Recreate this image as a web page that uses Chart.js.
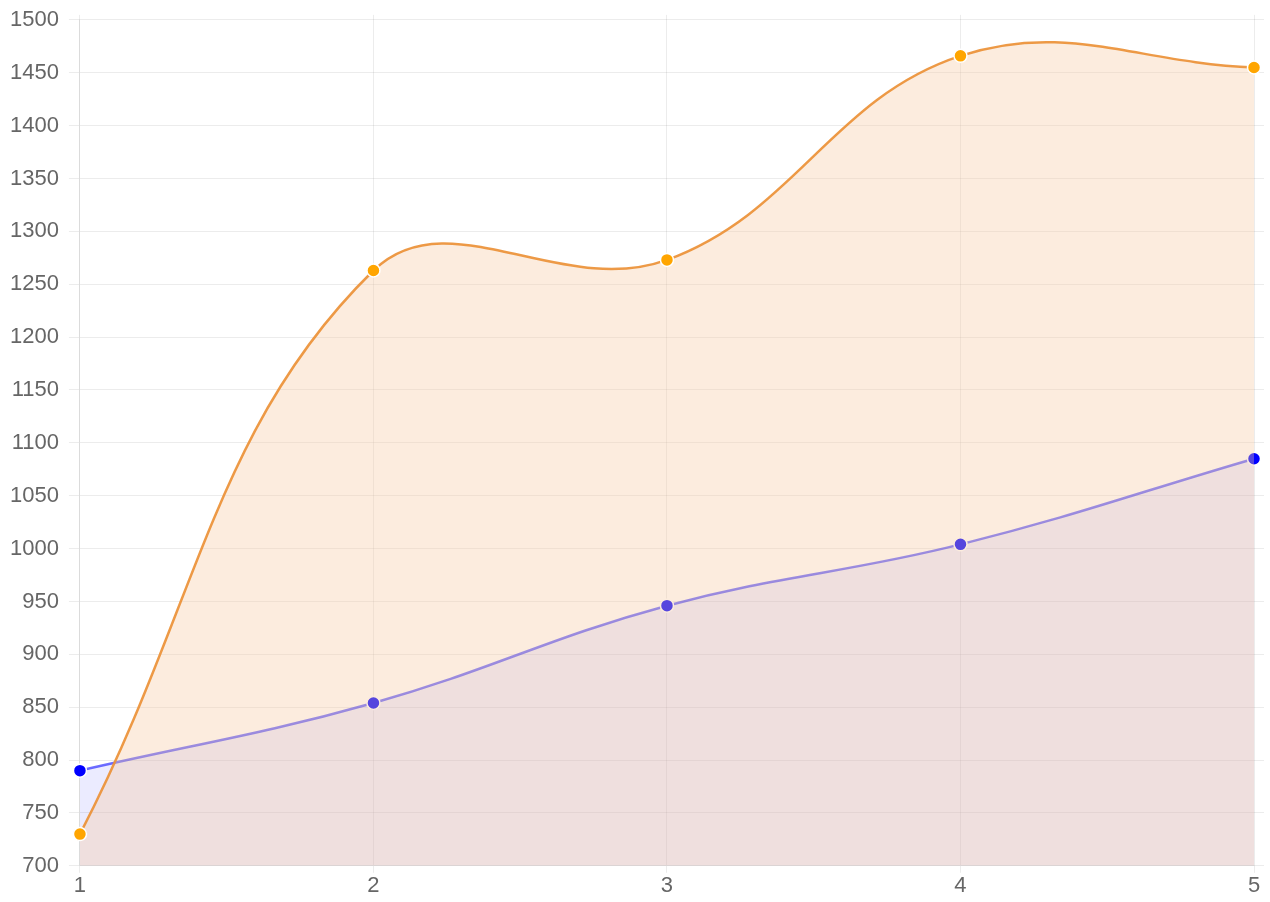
<!DOCTYPE html>
<html>
<head>
<meta charset="utf-8">
<script src="https://cdn.jsdelivr.net/npm/chart.js@4/dist/chart.umd.min.js"></script>
<style>
html,body{margin:0;padding:0;background:#fff;}
#wrap{width:1270px;height:902px;position:relative;}
</style>
</head>
<body>
<div id="wrap"><canvas id="c"></canvas></div>
<script>
const categories = ['1','2','3','4','5'];
const seriesOrange = [730, 1263, 1273, 1466, 1455];
const seriesBlue = [790, 854, 946, 1004, 1085];
const yMin = 700, yMax = 1500, yStep = 50;

const gridColor = 'rgba(0,0,0,0.075)';
const tickFont = { size: 22, family: 'Liberation Sans, Arial', lineHeight: 0.9 };

new Chart(document.getElementById('c'), {
  type: 'line',
  data: {
    labels: categories,
    datasets: [
      {
        label: 'A',
        data: seriesOrange,
        borderColor: 'rgba(236,145,55,0.92)',
        backgroundColor: 'rgba(245,200,160,0.35)',
        pointBackgroundColor: '#FFA500',
        pointBorderColor: '#ffffff',
        pointBorderWidth: 1.5,
        pointRadius: 6.5,
        borderWidth: 2.5,
        tension: 0.4,
        fill: 'origin'
      },
      {
        label: 'B',
        data: seriesBlue,
        borderColor: 'rgba(20,20,255,0.62)',
        backgroundColor: 'rgba(0,0,255,0.08)',
        pointBackgroundColor: '#0000FF',
        pointBorderColor: '#ffffff',
        pointBorderWidth: 1.5,
        pointRadius: 6.5,
        borderWidth: 2.5,
        tension: 0.4,
        fill: 'origin'
      }
    ]
  },
  options: {
    responsive: true,
    maintainAspectRatio: false,
    animation: false,
    layout: { padding: { top: 9, right: 6, bottom: 3, left: 0 } },
    plugins: { legend: { display: false }, tooltip: { enabled: false } },
    scales: {
      x: {
        grid: { color: gridColor, tickLength: 7 },
        ticks: { color: '#666', font: { size: 22, family: 'Liberation Sans, Arial', lineHeight: 1.1 }, padding: 1 },
        border: { color: gridColor }
      },
      xTop: {
        position: 'top',
        type: 'category',
        labels: categories,
        grid: { color: gridColor, tickLength: 5, drawOnChartArea: false },
        ticks: { display: false },
        border: { display: false }
      },
      y: {
        min: yMin, max: yMax,
        grid: { color: gridColor, tickLength: 11 },
        ticks: { stepSize: yStep, color: '#666', font: tickFont, padding: 10,
                 callback: (v) => String(v) },
        border: { color: gridColor }
      },
      yRight: {
        position: 'right',
        min: yMin, max: yMax,
        grid: { color: gridColor, tickLength: 10, drawOnChartArea: false },
        ticks: { stepSize: yStep, display: false },
        border: { display: false }
      }
    }
  }
});
</script>
</body>
</html>
